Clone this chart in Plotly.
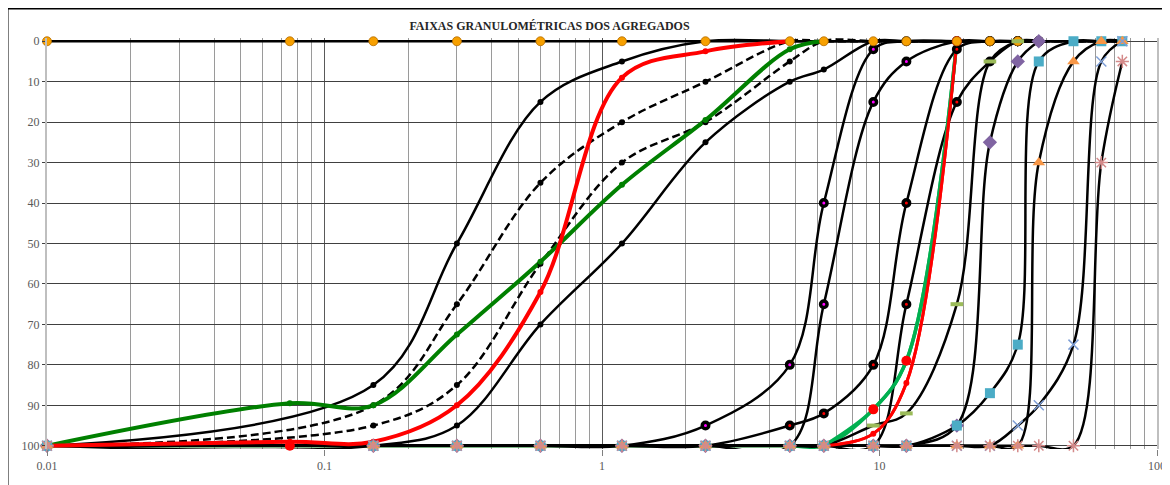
import plotly.graph_objects as go

# ---------------- data ----------------
SIEVES = [0.01, 0.15, 0.3, 0.6, 1.18, 2.36, 4.75, 6.3, 9.5, 12.5, 19, 25, 31.5, 37.5, 50, 63, 75]
SIEVES_SAMPLE = [0.01, 0.075, 0.15, 0.3, 0.6, 1.18, 2.36, 4.75, 6.3, 9.5, 12.5, 19, 25, 31.5, 37.5, 50, 63, 75]

# fine aggregate limits (% retained, cumulative)
fine_util_inf = [100, 85, 50, 15, 5, 0, 0, 0, 0, 0, 0, 0, 0, 0, 0, 0, 0]
fine_otima_inf = [100, 90, 65, 35, 20, 10, 0, 0, 0, 0, 0, 0, 0, 0, 0, 0, 0]
fine_otima_sup = [100, 95, 85, 55, 30, 20, 5, 0, 0, 0, 0, 0, 0, 0, 0, 0, 0]
fine_util_sup = [100, 100, 95, 70, 50, 25, 10, 7, 0, 0, 0, 0, 0, 0, 0, 0, 0]

# coarse aggregate limits
z1_min = [100, 100, 100, 100, 100, 95, 80, 40, 2, 0, 0, 0, 0, 0]
z1_max = [100, 100, 100, 100, 100, 100, 100, 65, 15, 5, 0, 0, 0, 0]
z2_min = [100, 100, 100, 100, 100, 100, 95, 92, 80, 40, 2, 0, 0, 0]
z2_max = [100, 100, 100, 100, 100, 100, 100, 100, 100, 65, 15, 5, 0, 0]
z3_min = [100, 100, 100, 100, 100, 100, 100, 100, 95, 92, 65, 5, 0]
z3_max = [100, 100, 100, 100, 100, 100, 100, 100, 100, 100, 95, 25, 5, 0]
z4_min = [100, 100, 100, 100, 100, 100, 100, 100, 100, 100, 95, 87, 75, 5, 0, 0, 0]
z4_max = [100, 100, 100, 100, 100, 100, 100, 100, 100, 100, 100, 100, 100, 30, 5, 0, 0]
z5_min = [100, 100, 100, 100, 100, 100, 100, 100, 100, 100, 100, 100, 95, 90, 75, 5, 0]
z5_max = [100, 100, 100, 100, 100, 100, 100, 100, 100, 100, 100, 100, 100, 100, 100, 30, 5]

# samples
fine_green = [100, 89.5, 90, 72.5, 54.5, 35.5, 19.5, 2, 0]
fine_red = [100, 99, 99, 90, 62, 9, 2.5, 0]
coarse_green = [100, 100, 100, 100, 100, 100, 100, 100, 100, 91, 79, 0]
coarse_red = [100, 100, 100, 100, 100, 100, 100, 100, 100, 97, 84.5, 0]
top_zero = [0, 0, 0, 0, 0, 0, 0, 0, 0, 0, 0, 0, 0, 0, 0]

X_TICKS = [0.01, 0.1, 1, 10, 100]
X_TICK_TEXT = ["0.01", "0.1", "1", "10", "100"]
TITLE = "FAIXAS GRANULOMÉTRICAS DOS AGREGADOS"

# ---------------- figure ----------------
fig = go.Figure()


def add_line(xs, ys, color, width, dash="solid"):
    fig.add_trace(go.Scatter(
        x=xs[:len(ys)], y=ys, mode="lines",
        line=dict(color=color, width=width, dash=dash, shape="spline", smoothing=1),
        hoverinfo="skip", showlegend=False))


def add_markers(xs, ys, symbol, size, color, lcolor=None, lwidth=0, skip100=False):
    px = xs[:len(ys)]
    pts = [(a, b) for a, b in zip(px, ys) if not (skip100 and b >= 100)]
    fig.add_trace(go.Scatter(
        x=[p[0] for p in pts], y=[p[1] for p in pts], mode="markers",
        marker=dict(symbol=symbol, size=size, color=color,
                    line=dict(color=lcolor or color, width=lwidth)),
        cliponaxis=False, hoverinfo="skip", showlegend=False))


DASH = "8px,4px"
# ---- lines ----
add_line(SIEVES_SAMPLE, coarse_red, "#FF0000", 3)
add_line(SIEVES_SAMPLE, coarse_green, "#00B050", 3.5)
add_line(SIEVES_SAMPLE, top_zero, "black", 2.5)
add_line(SIEVES, fine_util_inf, "black", 2.5)
add_line(SIEVES, fine_util_sup, "black", 2.5)
add_line(SIEVES, fine_otima_inf, "black", 2.5, DASH)
add_line(SIEVES, fine_otima_sup, "black", 2.5, DASH)
for z in (z1_min, z1_max, z2_min, z2_max, z3_min, z3_max, z4_min, z4_max, z5_min, z5_max):
    add_line(SIEVES, z, "black", 2.5)
add_line(SIEVES_SAMPLE[8:], coarse_green[8:], "#00B050", 3.5)
add_line(SIEVES_SAMPLE[8:], coarse_red[8:], "#FF0000", 3)
add_line(SIEVES_SAMPLE, fine_green, "#008000", 4)
add_line(SIEVES_SAMPLE, fine_red, "#FF0000", 4)

# ---- markers ----
for z in (fine_util_inf, fine_util_sup, fine_otima_inf, fine_otima_sup):
    add_markers(SIEVES, z, "circle", 6, "black")
add_markers(SIEVES, z1_min, "circle", 6.5, "#FF00FF", "black", 3.5, skip100=True)
add_markers(SIEVES, z1_max, "circle", 6.5, "#FF00FF", "black", 3.5, skip100=True)
add_markers(SIEVES, z2_min, "circle", 6.5, "#FF0000", "black", 3.5, skip100=True)
add_markers(SIEVES, z2_max, "circle", 6.5, "#FF0000", "black", 3.5, skip100=True)
add_markers(SIEVES_SAMPLE, coarse_green, "circle", 10, "#FF0000")
add_markers(SIEVES_SAMPLE, coarse_red, "circle", 6, "#FF0000")
add_markers(SIEVES_SAMPLE, fine_green, "circle", 6, "#008000")
add_markers(SIEVES_SAMPLE, fine_red, "circle", 6, "#FF0000")
add_markers(SIEVES_SAMPLE, top_zero, "circle", 9, "#F7A000", "#B36B00", 0.8)
add_markers(SIEVES, z3_min, "line-ew-open", 9, "#9BBB59", "#9BBB59", 4)
add_markers(SIEVES, z3_max, "diamond", 11, "#8064A2")
add_markers(SIEVES, z4_min, "square", 10, "#4BACC6")
add_markers(SIEVES, z4_max, "triangle-up", 11, "#F79646")
add_markers(SIEVES, z5_min, "x-thin-open", 10, "#7F9FD6", "#7F9FD6", 1.5)
add_markers(SIEVES, z5_max, "asterisk-open", 11, "#D48A8A", "#D48A8A", 1.5)

minor_vals = [m * 10 ** e for e in range(-2, 2) for m in range(2, 10)]

# the page body adds an 8px offset, so the figure is 8px smaller and margins shifted
W, H = 1162, 477
L, R, T, B = 39, 13, 30, 36
PW, PH = W - L - R, H - T - B

fig.update_layout(
    width=W, height=H,
    margin=dict(l=L, r=R, t=T, b=B, autoexpand=False),
    paper_bgcolor="white", plot_bgcolor="white",
    showlegend=False,
    font=dict(family="Liberation Serif", size=12, color="#595959"),
    title=dict(text="<b>" + TITLE + "</b>", x=(541.5 - L) / PW, xref="paper",
               xanchor="center", y=1 - 18 / H, yref="container", yanchor="middle",
               font=dict(family="Liberation Serif", size=12, color="#262626")),
    xaxis=dict(type="log", range=[-2, 2], tickmode="array", tickvals=X_TICKS,
               ticktext=X_TICK_TEXT, showgrid=True, gridcolor="#595959", gridwidth=1,
               ticks="outside", ticklen=6, tickcolor="#7f7f7f", automargin=False,
               minor=dict(tickmode="array", tickvals=minor_vals, showgrid=True,
                          gridcolor="#9a9a9a", gridwidth=1, ticks=""),
               showline=False, zeroline=False,
               tickfont=dict(family="Liberation Serif", size=12, color="#595959")),
    yaxis=dict(range=[100.8, -0.8], tickmode="array",
               tickvals=[0, 10, 20, 30, 40, 50, 60, 70, 80, 90, 100],
               showgrid=True, gridcolor="#404040", gridwidth=1,
               ticks="outside", ticklen=3, tickcolor="#404040", automargin=False,
               showline=True, linecolor="#BFBFBF", linewidth=2, mirror=True,
               zeroline=False,
               tickfont=dict(family="Liberation Serif", size=12, color="#595959")),
)

# outer chart frame (partially cut by the image edge)
fig.add_shape(type="rect", xref="paper", yref="paper",
              x0=(-1 - L) / PW, x1=(W + 20 - L) / PW,
              y0=(T + PH - (H + 20)) / PH, y1=(T + PH - 0) / PH,
              line=dict(color="black", width=3), fillcolor="rgba(0,0,0,0)", layer="above")

fig.write_html("out.html")
